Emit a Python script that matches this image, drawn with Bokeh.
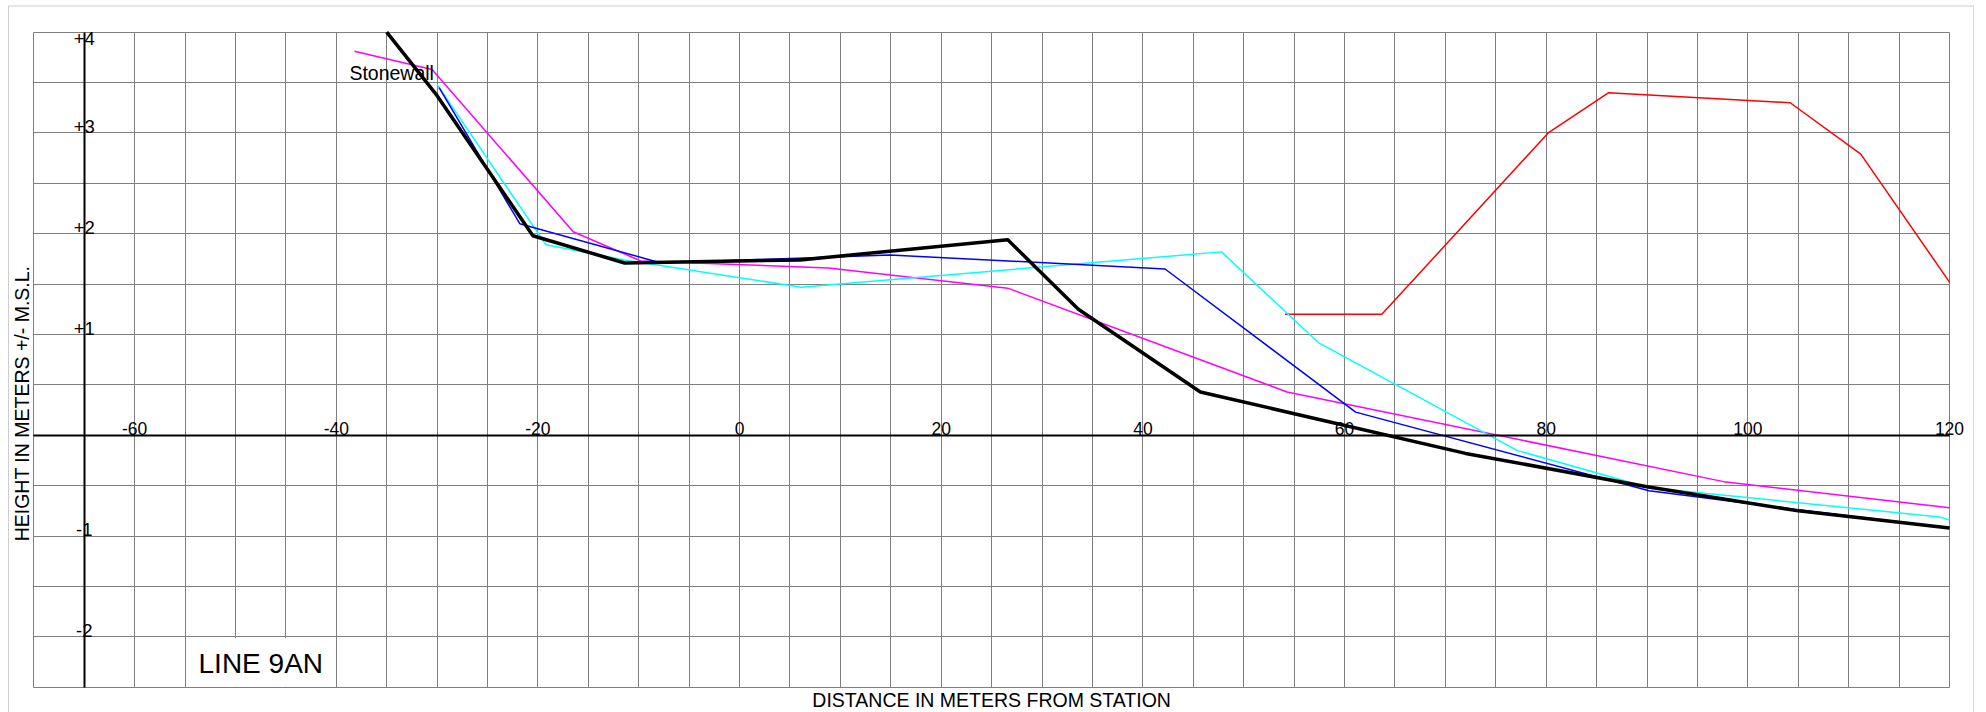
import numpy as np
from bokeh.plotting import figure
from bokeh.models import (Range1d, LinearAxis, FixedTicker, SingleIntervalTicker,
                          Grid, ColumnDataSource, LabelSet, BoxAnnotation)
from bokeh.core.properties import value, field
from bokeh.embed import file_html
from bokeh.resources import INLINE

FONT = "Liberation Sans"

# ---------------- data ----------------
black_x = [-35, -30, -20.5, -11.4, 6, 26.6, 33.6, 45.7, 72, 90, 105, 120]
black_y = [4.0, 3.37, 1.98, 1.71, 1.74, 1.94, 1.25, 0.43, -0.18, -0.51, -0.75, -0.92]

magenta_x = [-38.2, -30.5, -16.5, -9.8, 8.8, 26.6, 54.3, 97.6, 120]
magenta_y = [3.81, 3.63, 2.02, 1.73, 1.66, 1.46, 0.43, -0.46, -0.72]

blue_x = [-29.8, -21.8, -7.8, 14.9, 42.2, 61.1, 90.2, 105, 120]
blue_y = [3.45, 2.10, 1.71, 1.79, 1.65, 0.23, -0.55, -0.74, -0.92]

cyan_x = [-30, -19.2, -11.4, 6.1, 47.8, 57.4, 77.1, 90.2, 119, 120]
cyan_y = [3.48, 1.89, 1.74, 1.47, 1.82, 0.92, -0.15, -0.52, -0.81, -0.84]

red_x = [54.1, 63.7, 80.2, 86.2, 104.2, 111.2, 120]
red_y = [1.2, 1.2, 3.0, 3.4, 3.3, 2.79, 1.52]

xtick_values = [-60, -40, -20, 0, 20, 40, 60, 80, 100, 120]
xtick_labels = ["-60", "-40", "-20", "0", "20", "40", "60", "80", "100", "120"]
ytick_values = [4, 3, 2, 1, -1, -2]
ytick_labels = ["+4", "+3", "+2", "+1", "-1", "-2"]
y_axis_at = -65
x_axis_at = 0

x_title = "DISTANCE IN METERS FROM STATION"
y_title = "HEIGHT IN METERS +/- M.S.L."

note_x = [-38.7]
note_y = [3.527]
note_text = ["Stonewall"]

line_name_x = [-53.66]
line_name_y = [-2.362]
line_name = ["LINE 9AN"]
name_box = dict(left=[-54.0], right=[-41.0], bottom=[-2.495], top=[-2.015])

# grid extent (data units) and spacing
GX0, GX1, GDX = -70, 120, 5
GY0, GY1, GDY = -2.5, 4.0, 0.5

# ---------------- layout (pixels on the page) ----------------
W, H = 1974, 712
PX_L, PX_R, PX_T, PX_B = 33.3, 1949.0, 31.7, 686.7     # where the grid sits
sx = (PX_R - PX_L) / (GX1 - GX0)
sy = (PX_B - PX_T) / (GY1 - GY0)
x_lo, x_hi = GX0 - PX_L / sx, GX1 + (W - PX_R) / sx
y_hi, y_lo = GY1 + PX_T / sy, GY0 - (H - PX_B) / sy

def x_at(px):
    return x_lo + px / sx

def y_at(py):
    return y_hi - py / sy

p = figure(width=W, height=H,
           x_range=Range1d(x_lo, x_hi), y_range=Range1d(y_lo, y_hi),
           x_axis_type=None, y_axis_type=None,
           toolbar_location=None, output_backend="svg",
           min_border_left=0, min_border_right=0, min_border_top=0, min_border_bottom=0,
           background_fill_color="white", border_fill_color="white",
           outline_line_color=None)

# sheet border
p.add_layout(BoxAnnotation(left=x_at(8.0), right=x_at(1973.3), top=y_at(5.5),
                           bottom=y_lo - 1.0, fill_color=None, fill_alpha=0,
                           line_color="#5a5a5a", line_width=1, level="underlay"))

# grid
grid_color = "#7f7f7f"
if "cross_bounds" in Grid.properties():
    p.add_layout(Grid(dimension=0, bounds=(GX0, GX1), cross_bounds=(GY0, GY1),
                      ticker=SingleIntervalTicker(interval=GDX, num_minor_ticks=0),
                      grid_line_color=grid_color, grid_line_width=1))
    p.add_layout(Grid(dimension=1, bounds=(GY0, GY1), cross_bounds=(GX0, GX1),
                      ticker=SingleIntervalTicker(interval=GDY, num_minor_ticks=0),
                      grid_line_color=grid_color, grid_line_width=1))
else:
    gx = np.arange(GX0, GX1 + GDX / 2, GDX)
    gy = np.arange(GY0, GY1 + GDY / 2, GDY)
    p.segment(x0=gx, y0=[GY0] * len(gx), x1=gx, y1=[GY1] * len(gx),
              line_color=grid_color, line_width=1, level="underlay")
    p.segment(x0=[GX0] * len(gy), y0=gy, x1=[GX1] * len(gy), y1=gy,
              line_color=grid_color, line_width=1, level="underlay")

# zero line (horizontal axis at height 0)
xax = LinearAxis(fixed_location=x_axis_at, bounds=(GX0, GX1), ticker=FixedTicker(ticks=[]),
                 major_tick_in=0, major_tick_out=0, minor_tick_in=0, minor_tick_out=0,
                 axis_line_width=2, axis_line_color="black", major_label_standoff=0)
p.add_layout(xax, "above")

# vertical height axis line
yax = LinearAxis(fixed_location=y_axis_at, bounds=(GY0, GY1), ticker=FixedTicker(ticks=[]),
                 major_tick_in=0, major_tick_out=0, minor_tick_in=0, minor_tick_out=0,
                 axis_line_width=2, axis_line_color="black", major_label_standoff=0)
p.add_layout(yax, "left")

# profile lines
p.line(red_x, red_y, line_color="#ff0000", line_width=1.5)
p.line(magenta_x, magenta_y, line_color="#ff00ff", line_width=1.5)
p.line(cyan_x, cyan_y, line_color="#00ffff", line_width=1.5)
p.line(blue_x, blue_y, line_color="#0000ff", line_width=1.5)
p.line(black_x, black_y, line_color="black", line_width=3.5)

def add_texts(xs, ys, texts, size, align="left", baseline="alphabetic", angle=0):
    src = ColumnDataSource(dict(x=list(xs), y=list(ys), text=list(texts)))
    p.add_layout(LabelSet(x="x", y="y", text="text", source=src,
                          text_align=align, text_baseline=baseline,
                          angle=angle, angle_units="deg",
                          text_font=value(FONT), text_font_size=value(size),
                          text_color="black"))

# distance labels sitting on the zero line
add_texts(xtick_values, [x_axis_at] * len(xtick_values), xtick_labels, "17.5px",
          align="center")

# height labels on the vertical axis
top_val = max(ytick_values)
ysrc = ColumnDataSource(dict(
    x=[y_axis_at] * len(ytick_values), y=ytick_values, text=ytick_labels,
    base=["top" if v == top_val else "alphabetic" for v in ytick_values]))
p.add_layout(LabelSet(x="x", y="y", text="text", source=ysrc,
                      text_align="center", text_baseline=field("base"),
                      text_font=value(FONT), text_font_size=value("18.5px"),
                      text_color="black"))

# annotations inside the grid
add_texts(note_x, note_y, note_text, "19.5px")
p.quad(left=name_box["left"], right=name_box["right"], bottom=name_box["bottom"],
       top=name_box["top"], fill_color="white", line_color=None)
add_texts(line_name_x, line_name_y, line_name, "28px")

# axis titles outside the grid
add_texts([(GX0 + GX1) / 2], [y_at(706.7)], [x_title], "19.5px", align="center")
add_texts([x_at(28.3)], [y_at(403.0)], [y_title], "19.5px", align="center", angle=90)

open("out.html", "w").write(file_html(p, INLINE))
